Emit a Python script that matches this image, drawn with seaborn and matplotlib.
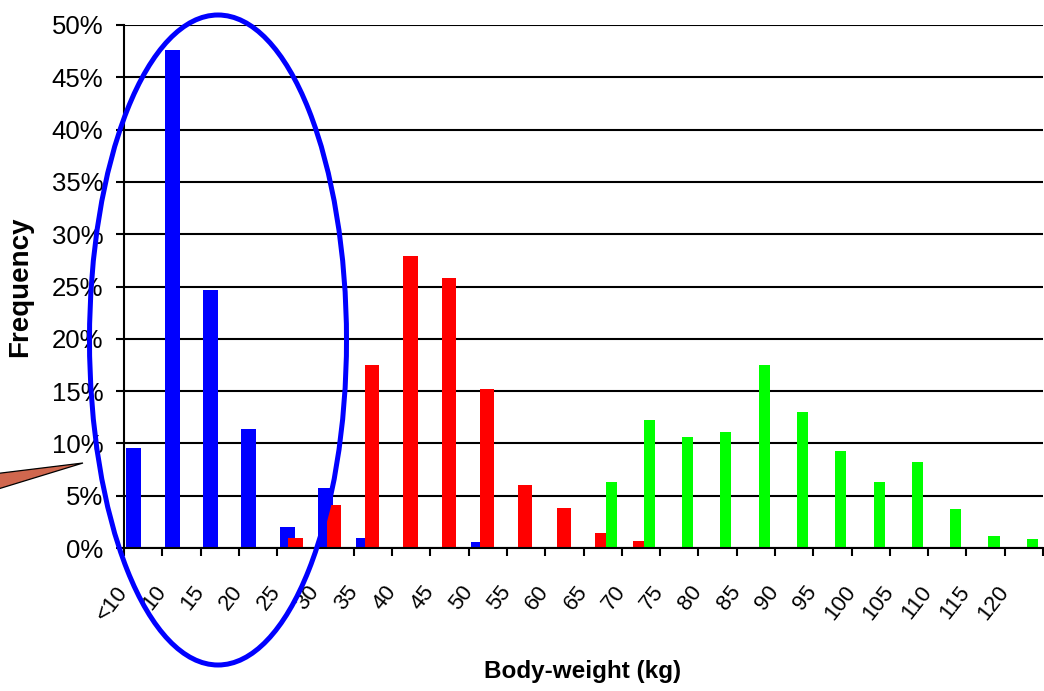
import numpy as np
import pandas as pd
import matplotlib
matplotlib.use("Agg")
import matplotlib.pyplot as plt
import matplotlib.transforms as mtransforms
from matplotlib.patches import Ellipse, Polygon
from matplotlib import font_manager
import seaborn as sns

# Body-weight classes (kg)
categories = ["<10", "10", "15", "20", "25", "30", "35", "40", "45", "50", "55", "60",
              "65", "70", "75", "80", "85", "90", "95", "100", "105", "110", "115", "120"]

# Frequency (%) of each group per weight class
group_small = [9.6, 47.6, 24.7, 11.4, 2.0, 5.7, 1.0, 0, 0, 0.6, 0, 0,
               0, 0, 0, 0, 0, 0, 0, 0, 0, 0, 0, 0]
group_medium = [0, 0, 0, 0, 1.0, 4.1, 17.5, 27.9, 25.8, 15.2, 6.0, 3.8,
                1.4, 0.7, 0, 0, 0, 0, 0, 0, 0, 0, 0, 0]
group_large = [0, 0, 0, 0, 0, 0, 0, 0, 0, 0, 0, 0,
               6.3, 12.2, 10.6, 11.1, 17.5, 13.0, 9.3, 6.3, 8.2, 3.7, 1.1, 0.9]

y_ticks = list(range(0, 55, 5))

sns.set_theme(style="white")
plt.rcParams["font.family"] = ["Liberation Sans", "DejaVu Sans"]

installed = {f.name for f in font_manager.fontManager.ttflist}
has_narrow = "Liberation Sans Narrow" in installed

W, H = 1044, 691
fig = plt.figure(figsize=(W / 100, H / 100), dpi=100)
ax_left, ax_right, ax_top, ax_bottom = 124, 1043, 25, 548
ax = fig.add_axes([ax_left / W, 1 - ax_bottom / H,
                   (ax_right - ax_left) / W, (ax_bottom - ax_top) / H])

idx = np.arange(len(categories))
df = pd.DataFrame({"idx": idx, "small": group_small,
                   "medium": group_medium, "large": group_large})

# overlapping clustered bars: (column, colour, centre offset in class, width)
series = [("small", "#0000FF", 0.26, 0.39),
          ("medium", "#FF0000", 0.48, 0.37),
          ("large", "#00FF00", 0.72, 0.29)]
for col, colour, offset, width in series:
    d = pd.DataFrame({"x": df["idx"] + offset, "y": df[col]})
    sns.barplot(data=d, x="x", y="y", native_scale=True, color=colour,
                saturation=1, width=width, errorbar=None, linewidth=0,
                ax=ax, zorder=3)

ax.set_xlim(0, len(categories))
ax.set_ylim(0, 50)

# horizontal grid
ax.set_yticks(y_ticks)
ax.set_yticklabels([f"{v}%" for v in y_ticks])
ax.yaxis.grid(True, color="black", linewidth=1.5)
ax.xaxis.grid(False)
ax.set_axisbelow(True)

for s in ["top", "right"]:
    ax.spines[s].set_visible(False)
for s in ["left", "bottom"]:
    ax.spines[s].set_color("black")
    ax.spines[s].set_linewidth(1.5)
    ax.spines[s].set_zorder(4)

ax.tick_params(axis="y", direction="out", length=5.8, width=1.5,
               color="black", pad=9, left=True)

# class boundaries carry the tick marks, centres carry the labels
ax.set_xticks(idx + 0.5)
ax.set_xticklabels(categories)
ax.set_xticks(np.arange(len(categories) + 1), minor=True)
ax.tick_params(axis="x", which="major", length=0, pad=24.5, bottom=True)
ax.tick_params(axis="x", which="minor", direction="out", length=5.8,
               width=1.5, color="black", bottom=True)

ax.set_xlabel("Body-weight (kg)", fontsize=17.5, fontweight="bold", color="black")
ax.xaxis.set_label_coords(0.4995, -0.214)
ax.set_ylabel("Frequency", fontsize=20, fontweight="bold", color="black")
ax.yaxis.set_label_coords(-0.099, 0.5)

# highlight ring around the lightest classes
ring = Ellipse((218 / W, 1 - 340 / H), 257 / W, 650 / H, transform=fig.transFigure,
               fill=False, edgecolor="#0000FF", linewidth=3.6, zorder=10)
fig.add_artist(ring)

# callout pointer
pointer = Polygon([(-15 / W, 1 - 475 / H), (83 / W, 1 - 463 / H), (-15 / W, 1 - 493 / H)],
                  closed=True, transform=fig.transFigure, facecolor="#D0674E",
                  edgecolor="black", linewidth=0.9, zorder=9)
fig.add_artist(pointer)

# label styling, applied last so it sticks to the final tick objects
ytick_family = ["Liberation Sans Narrow", "Liberation Sans"] if has_narrow else ["Liberation Sans"]
ytick_size = 20 if has_narrow else 18.5
for lab in ax.get_yticklabels():
    lab.set_fontfamily(ytick_family)
    lab.set_fontsize(ytick_size)
    lab.set_color("black")

shift = mtransforms.ScaledTranslation(-11 / 100, 0, fig.dpi_scale_trans)
for lab in ax.get_xticklabels():
    lab.set_fontsize(16)
    lab.set_color("black")
    lab.set_rotation(52)
    lab.set_horizontalalignment("right")
    lab.set_verticalalignment("top")
    lab.set_transform(lab.get_transform() + shift)

fig.savefig("out.png", dpi=100)
